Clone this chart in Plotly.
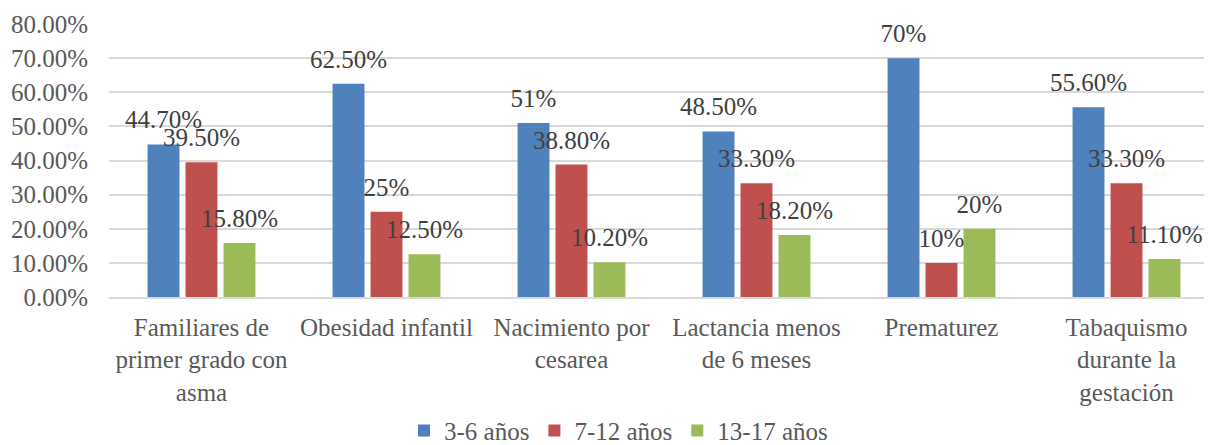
import plotly.graph_objects as go

categories = [
    "Familiares de<br>primer grado con<br>asma",
    "Obesidad infantil",
    "Nacimiento por<br>cesarea",
    "Lactancia menos<br>de 6 meses",
    "Prematurez",
    "Tabaquismo<br>durante la<br>gestación",
]

series_names = ["3-6 años", "7-12 años", "13-17 años"]
vals_3_6 = [0.447, 0.625, 0.51, 0.485, 0.70, 0.556]
vals_7_12 = [0.395, 0.25, 0.388, 0.333, 0.10, 0.333]
vals_13_17 = [0.158, 0.125, 0.102, 0.182, 0.20, 0.111]

labels_3_6 = ["44.70%", "62.50%", "51%", "48.50%", "70%", "55.60%"]
labels_7_12 = ["39.50%", "25%", "38.80%", "33.30%", "10%", "33.30%"]
labels_13_17 = ["15.80%", "12.50%", "10.20%", "18.20%", "20%", "11.10%"]

colors = ["#4F81BD", "#C0504D", "#9BBB59"]

FONT = "Liberation Serif"
FS = 25

fig = go.Figure()
for i, (name, vals, labels, col) in enumerate(zip(
    series_names,
    [vals_3_6, vals_7_12, vals_13_17],
    [labels_3_6, labels_7_12, labels_13_17],
    colors,
)):
    fig.add_trace(go.Bar(
        name=name,
        x=categories,
        y=vals,
        offsetgroup=str(i),
        marker=dict(color=col, line=dict(width=0)),
    ))
    # data labels, grouped like the bars so they sit over them
    fig.add_trace(go.Scatter(
        x=categories,
        y=vals,
        offsetgroup=str(i),
        mode="markers+text",
        text=labels,
        textposition="top center",
        textfont=dict(family=FONT, size=FS, color="#404040"),
        marker=dict(size=14, opacity=0),
        cliponaxis=False,
        showlegend=False,
        hoverinfo="skip",
    ))

# page body has an 8px margin; the original chart is cropped on the right
fig.update_layout(
    width=1211,
    height=445,
    barmode="group",
    scattermode="group",
    bargap=0.384,
    bargroupgap=0.16,
    scattergap=0.384,
    plot_bgcolor="white",
    paper_bgcolor="white",
    margin=dict(l=101, r=0, t=16, b=156, autoexpand=False),
    font=dict(family=FONT, size=FS, color="#595959"),
    showlegend=True,
    legend=dict(
        orientation="h",
        x=0.459, xanchor="center",
        y=-0.49, yanchor="middle",
        font=dict(family=FONT, size=FS, color="#595959"),
        itemwidth=30,
    ),
    yaxis=dict(
        range=[0, 0.8],
        dtick=0.1,
        tickformat=".2%",
        showgrid=True,
        gridcolor="#D9D9D9",
        gridwidth=1.5,
        zeroline=False,
        showline=False,
        ticklabelstandoff=20,
        automargin=False,
    ),
    xaxis=dict(
        showline=True,
        linecolor="#D9D9D9",
        linewidth=1.5,
        ticks="",
        tickangle=0,
        ticklabelstandoff=7,
        automargin=False,
    ),
)

fig.write_html("out.html")
